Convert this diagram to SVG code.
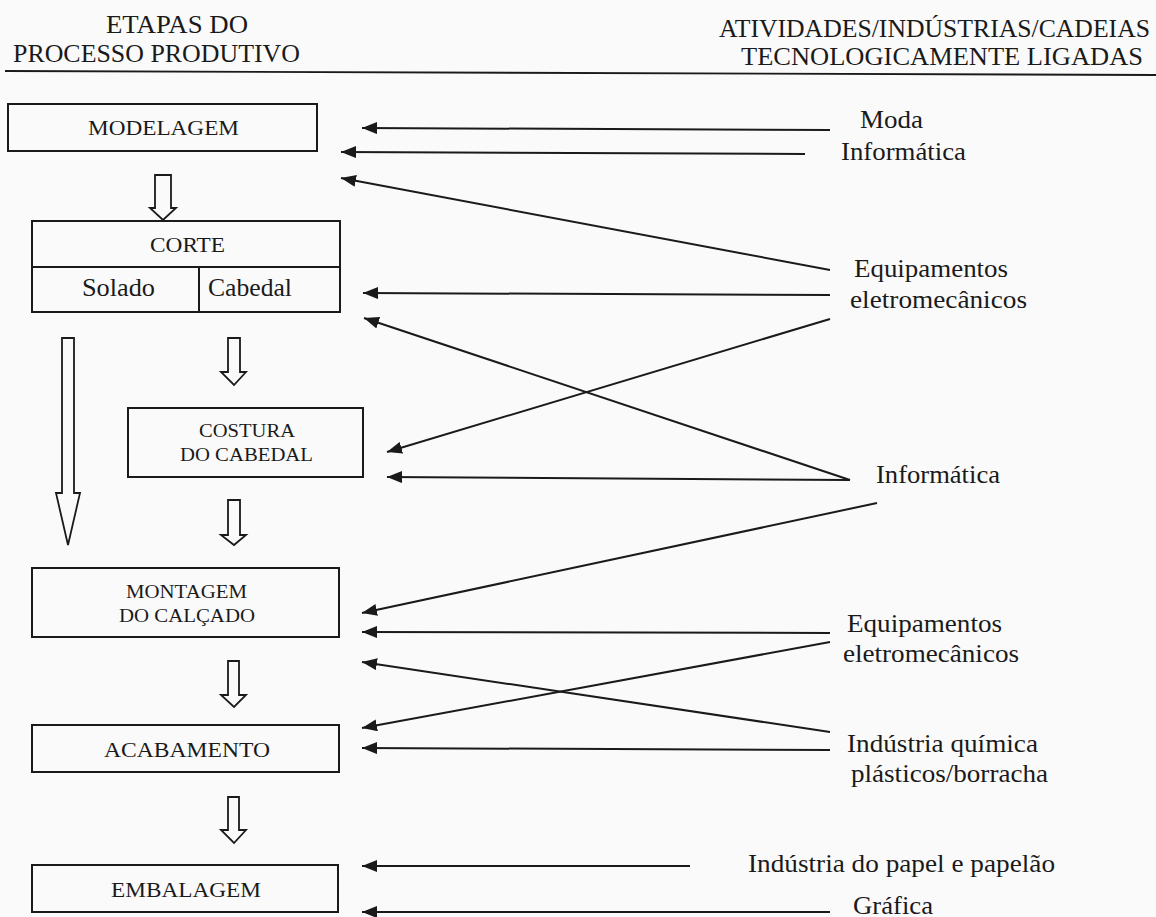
<svg xmlns="http://www.w3.org/2000/svg" width="1156" height="917" viewBox="0 0 1156 917">
<defs>
<style>
text{font-family:"Liberation Serif","Times New Roman",serif;fill:#1a1a1a}
.hd{font-size:25px}
.bx{font-size:22px}
.sm{font-size:19px}
.lb{font-size:25px}
.box{fill:none;stroke:#1a1a1a;stroke-width:2}
.ha{fill:#fafafa;stroke:#1a1a1a;stroke-width:1.8;stroke-linejoin:miter}
.cn line{stroke:#1a1a1a;stroke-width:2;marker-end:url(#ah)}
</style>
<marker id="ah" viewBox="0 0 15 12" markerWidth="15" markerHeight="12" refX="15" refY="6" orient="auto" markerUnits="userSpaceOnUse">
<path d="M0,0 L15,6 L0,12 z" fill="#1a1a1a"/>
</marker>
</defs>
<rect width="1156" height="917" fill="#fafafa"/>

<g id="header">
<text class="hd" x="177" y="33" text-anchor="middle" textLength="142" lengthAdjust="spacingAndGlyphs">ETAPAS DO</text>
<text class="hd" x="13" y="62" textLength="287" lengthAdjust="spacingAndGlyphs">PROCESSO PRODUTIVO</text>
<text class="hd" x="719" y="37" textLength="431" lengthAdjust="spacingAndGlyphs">ATIVIDADES/INDÚSTRIAS/CADEIAS</text>
<text class="hd" x="741" y="65" textLength="402" lengthAdjust="spacingAndGlyphs">TECNOLOGICAMENTE LIGADAS</text>
<line x1="5" y1="71" x2="1156" y2="75" stroke="#1a1a1a" stroke-width="1.8"/>
</g>

<g id="modelagem">
<rect class="box" x="8" y="104" width="309" height="47"/>
<text class="bx" x="163.5" y="135" text-anchor="middle" textLength="151" lengthAdjust="spacingAndGlyphs">MODELAGEM</text>
</g>

<g id="corte">
<rect class="box" x="32" y="221" width="308" height="91"/>
<line x1="32" y1="267" x2="340" y2="267" stroke="#1a1a1a" stroke-width="2"/>
<line x1="199" y1="267" x2="199" y2="312" stroke="#1a1a1a" stroke-width="2"/>
<text class="bx" x="187.5" y="252" text-anchor="middle" textLength="75" lengthAdjust="spacingAndGlyphs">CORTE</text>
<text class="lb" x="82" y="296" textLength="73" lengthAdjust="spacingAndGlyphs">Solado</text>
<text class="lb" x="208" y="296" textLength="84" lengthAdjust="spacingAndGlyphs">Cabedal</text>
</g>

<g id="costura">
<rect class="box" x="128" y="408" width="235" height="69"/>
<text class="sm" x="247" y="437" text-anchor="middle" textLength="96" lengthAdjust="spacingAndGlyphs">COSTURA</text>
<text class="sm" x="246.5" y="461" text-anchor="middle" textLength="133" lengthAdjust="spacingAndGlyphs">DO CABEDAL</text>
</g>

<g id="montagem">
<rect class="box" x="32" y="568" width="307" height="69"/>
<text class="sm" x="186.5" y="598" text-anchor="middle" textLength="121" lengthAdjust="spacingAndGlyphs">MONTAGEM</text>
<text class="sm" x="187" y="622" text-anchor="middle" textLength="136" lengthAdjust="spacingAndGlyphs">DO CALÇADO</text>
</g>

<g id="acabamento">
<rect class="box" x="32" y="725" width="307" height="47"/>
<text class="bx" x="187" y="757" text-anchor="middle" textLength="166" lengthAdjust="spacingAndGlyphs">ACABAMENTO</text>
</g>

<g id="embalagem">
<rect class="box" x="32" y="865" width="306" height="47"/>
<text class="bx" x="186" y="897" text-anchor="middle" textLength="150" lengthAdjust="spacingAndGlyphs">EMBALAGEM</text>
</g>

<g id="fontes">
<text class="lb" x="860" y="128" textLength="63" lengthAdjust="spacingAndGlyphs">Moda</text>
<text class="lb" x="841" y="160" textLength="125" lengthAdjust="spacingAndGlyphs">Informática</text>
<text class="lb" x="854" y="277" textLength="154" lengthAdjust="spacingAndGlyphs">Equipamentos</text>
<text class="lb" x="850" y="308" textLength="177" lengthAdjust="spacingAndGlyphs">eletromecânicos</text>
<text class="lb" x="876" y="483" textLength="124" lengthAdjust="spacingAndGlyphs">Informática</text>
<text class="lb" x="847" y="632" textLength="155" lengthAdjust="spacingAndGlyphs">Equipamentos</text>
<text class="lb" x="843" y="662" textLength="176" lengthAdjust="spacingAndGlyphs">eletromecânicos</text>
<text class="lb" x="847" y="752" textLength="191" lengthAdjust="spacingAndGlyphs">Indústria química</text>
<text class="lb" x="851" y="782" textLength="197" lengthAdjust="spacingAndGlyphs">plásticos/borracha</text>
<text class="lb" x="748" y="872" textLength="307" lengthAdjust="spacingAndGlyphs">Indústria do papel e papelão</text>
<text class="lb" x="853" y="914" textLength="80" lengthAdjust="spacingAndGlyphs">Gráfica</text>
</g>

<g id="fluxo">
<polygon class="ha" points="155,175 171,175 171,208 176,208 163,220 150,208 155,208"/>
<polygon class="ha" points="228,338 240,338 240,372 246,372 234,385 221,372 228,372"/>
<polygon class="ha" points="62,338 74,338 74,493 80,493 68,545 56,493 62,493"/>
<polygon class="ha" points="228,500 240,500 240,535 246,535 234,545 221,535 228,535"/>
<polygon class="ha" points="228,661 239,661 239,695 246,695 234,707 221,695 228,695"/>
<polygon class="ha" points="228,797 239,797 239,830 246,830 234,843 221,830 228,830"/>
</g>

<g id="connectors" class="cn">
<line x1="830" y1="130" x2="362" y2="128"/>
<line x1="805" y1="154" x2="341" y2="152"/>
<line x1="830" y1="270" x2="341" y2="178"/>
<line x1="830" y1="295" x2="363" y2="293"/>
<line x1="830" y1="319" x2="387" y2="452"/>
<line x1="850" y1="480" x2="364" y2="318"/>
<line x1="850" y1="480" x2="387" y2="477"/>
<line x1="877" y1="503" x2="362" y2="613"/>
<line x1="830" y1="633" x2="362" y2="632"/>
<line x1="830" y1="642" x2="362" y2="728"/>
<line x1="830" y1="732" x2="362" y2="662"/>
<line x1="830" y1="750" x2="362" y2="748"/>
<line x1="690" y1="866" x2="362" y2="866"/>
<line x1="830" y1="912" x2="362" y2="912"/>
</g>
</svg>
